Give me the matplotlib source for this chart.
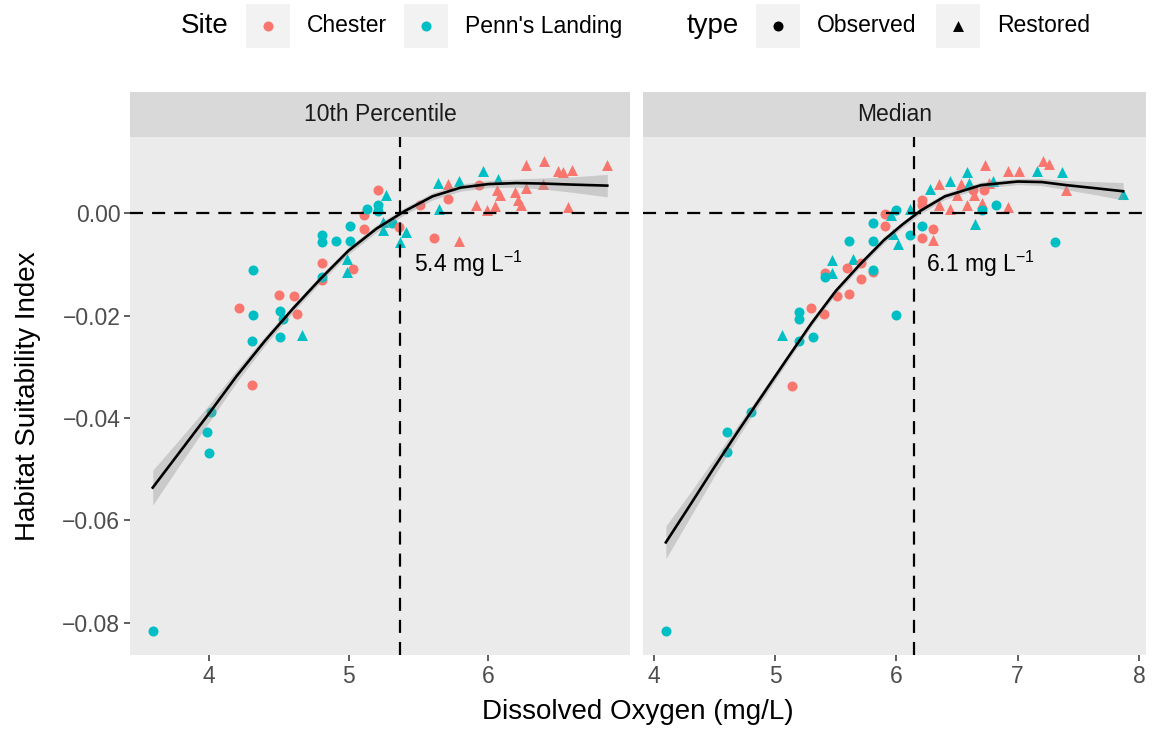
import numpy as np
import matplotlib
matplotlib.use("Agg")
import matplotlib.pyplot as plt
from matplotlib.patches import Rectangle

plt.rcParams["font.family"] = ["Liberation Sans", "DejaVu Sans"]
plt.rcParams["mathtext.fontset"] = "custom"
plt.rcParams["mathtext.rm"] = "Liberation Sans"
plt.rcParams["mathtext.default"] = "rm"
plt.rcParams["lines.scale_dashes"] = False

# Site codes: C = Chester, P = Penn's Landing; type codes: O = Observed, R = Restored
p10_do = [3.60, 4.02, 3.99, 4.00, 4.31, 4.31, 4.51, 4.67, 4.22, 4.32, 4.51, 4.53, 4.63,
          4.50, 4.61, 4.32, 4.81, 4.81, 4.81, 4.99, 5.03, 4.99, 4.81, 4.81, 4.91, 5.01,
          5.01, 5.11, 5.11, 5.13, 5.21, 5.21, 5.21, 5.27, 5.25, 5.25, 5.31, 5.36, 5.41,
          5.37, 5.51, 5.64, 5.71, 5.79, 5.96, 5.93, 6.07, 6.06, 6.08, 5.71, 5.65, 5.91,
          5.99, 6.05, 6.19, 6.21, 6.23, 6.27, 6.39, 6.27, 6.40, 6.50, 6.53, 6.60, 6.85,
          6.57, 5.61, 5.79]
p10_hsi = [-0.0817, -0.0388, -0.0427, -0.0468, -0.0336, -0.0249, -0.0241, -0.0237,
           -0.0186, -0.0198, -0.0190, -0.0206, -0.0196, -0.0159, -0.0161, -0.0111,
           -0.0097, -0.0130, -0.0124, -0.0089, -0.0109, -0.0115, -0.0043, -0.0056,
           -0.0054, -0.0054, -0.0025, -0.0031, -0.0004, 0.0008, 0.0017, 0.0004, 0.0045,
           0.0035, -0.0033, -0.0017, -0.0019, -0.0027, -0.0037, -0.0056, 0.0017, 0.0060,
           0.0058, 0.0064, 0.0083, 0.0056, 0.0066, 0.0045, 0.0035, 0.0027, 0.0008, 0.0016,
           0.0006, 0.0014, 0.0041, 0.0025, 0.0016, 0.0049, 0.0058, 0.0095, 0.0103, 0.0083,
           0.0080, 0.0085, 0.0095, 0.0012, -0.0049, -0.0054]
p10_site = ("PPPPCPPPCP" "PPCCCPCCPP" "CPPPPPPCCP" "PPCPPPPCPP"
            "CPCPPCPCCC" "PCCCCCCCCC" "CCCCCCCC")
p10_type = ("OOOOOOOROO" "OOOOOOOOOR" "OROOOOOOOO" "OOORRROORR"
            "ORRRRORRRO" "RRRRRRRRRR" "RRRRRROR")

med_do = [4.10, 4.60, 4.60, 4.80, 5.14, 5.06, 5.20, 5.31, 5.30, 5.20, 5.20, 5.40, 5.51,
          5.61, 5.41, 5.41, 5.47, 5.47, 5.64, 5.59, 5.71, 5.71, 5.81, 5.81, 5.61, 5.81,
          6.00, 5.81, 5.91, 5.91, 5.96, 6.00, 6.11, 6.11, 6.01, 5.97, 6.21, 6.21, 6.28,
          6.35, 6.44, 6.53, 6.58, 6.60, 6.73, 6.63, 6.50, 6.35, 6.44, 6.58, 6.64, 6.71,
          6.71, 6.72, 6.76, 6.80, 6.82, 6.92, 7.01, 6.92, 7.16, 7.21, 7.26, 7.37, 7.40,
          7.87, 6.65, 6.21, 6.30, 6.21, 6.30, 7.31]
med_hsi = [-0.0817, -0.0427, -0.0466, -0.0388, -0.0338, -0.0237, -0.0249, -0.0241,
           -0.0186, -0.0192, -0.0206, -0.0196, -0.0161, -0.0157, -0.0117, -0.0124,
           -0.0117, -0.0091, -0.0089, -0.0107, -0.0097, -0.0128, -0.0115, -0.0111,
           -0.0054, -0.0054, -0.0198, -0.0019, -0.0025, -0.0002, -0.0004, 0.0006, 0.0008,
           -0.0043, -0.0060, -0.0041, 0.0025, 0.0017, 0.0047, 0.0058, 0.0064, 0.0058,
           0.0080, 0.0060, 0.0095, 0.0045, 0.0035, 0.0016, 0.0008, 0.0016, 0.0035, 0.0021,
           0.0006, 0.0045, 0.0060, 0.0064, 0.0017, 0.0083, 0.0083, 0.0012, 0.0082, 0.0103,
           0.0097, 0.0080, 0.0045, 0.0037, -0.0021, -0.0025, -0.0031, -0.0049, -0.0052,
           -0.0056]
med_site = ("PPPPCPPPCP" "PCCCCPPPPC" "CCCPPPPPCC" "PPPPPPCCPC"
            "PCPPCCCCCC" "CCPCCPPCCC" "PCCPCPPPCC" "CP")
med_type = ("OOOOOROOOO" "OOOOOORRRO" "OOOOOOOOOO" "RORORROORR"
            "RRRRRORRRR" "RROORRORRR" "RRRRRRROOO" "RO")

# smoothed fit with its 95% confidence half-width
p10_fit_do = [3.60, 3.80, 4.00, 4.20, 4.40, 4.60, 4.80, 5.00, 5.20, 5.40, 5.60, 5.80,
              6.00, 6.20, 6.40, 6.60, 6.85]
p10_fit = [-0.0536, -0.0464, -0.0392, -0.0318, -0.0250, -0.0187, -0.0128, -0.0073,
           -0.0030, 0.0004, 0.0033, 0.0050, 0.0057, 0.0059, 0.0058, 0.0056, 0.0054]
p10_se = [0.0034, 0.0025, 0.0017, 0.0012, 0.0009, 0.0007, 0.0007, 0.0007, 0.0007,
          0.0007, 0.0007, 0.0007, 0.0007, 0.0008, 0.0011, 0.0015, 0.0022]

med_fit_do = [4.10, 4.30, 4.50, 4.70, 4.90, 5.10, 5.30, 5.50, 5.70, 5.90, 6.05, 6.20,
              6.40, 6.70, 7.00, 7.20, 7.40, 7.60, 7.87]
med_fit = [-0.0643, -0.0570, -0.0496, -0.0424, -0.0354, -0.0284, -0.0215, -0.0152,
           -0.0100, -0.0052, -0.0022, 0.0005, 0.0033, 0.0055, 0.0062, 0.0061, 0.0055,
           0.0050, 0.0043]
med_se = [0.0032, 0.0024, 0.0017, 0.0012, 0.0009, 0.0007, 0.0006, 0.0006, 0.0006,
          0.0006, 0.0006, 0.0006, 0.0006, 0.0006, 0.0006, 0.0007, 0.0009, 0.0012, 0.0017]

panel_titles = ["10th Percentile", "Median"]
thresholds = [5.37, 6.145]
x_breaks = [[4, 5, 6], [4, 5, 6, 7, 8]]
y_breaks = [-0.08, -0.06, -0.04, -0.02, 0.00]

site_colors = {"C": "#F8766D", "P": "#00BFC4"}
type_markers = {"O": "o", "R": "^"}

W, H = 1153, 730
fig = plt.figure(figsize=(W / 100, H / 100), dpi=100)
fig.patch.set_facecolor("white")

panels = [(p10_do, p10_hsi, p10_site, p10_type, p10_fit_do, p10_fit, p10_se),
          (med_do, med_hsi, med_site, med_type, med_fit_do, med_fit, med_se)]
lefts = [130, 643]
widths = [500, 503]
top, bottom = 137, 655

ylo = min(min(p10_hsi), min(med_hsi))
yhi = max(max(p10_hsi), max(med_hsi))
ypad = 0.05 * (yhi - ylo)

for i, (do, hsi, site, kind, fx, fy, se) in enumerate(panels):
    ax = fig.add_axes([lefts[i] / W, (H - bottom) / H, widths[i] / W, (bottom - top) / H])
    ax.set_facecolor("#EBEBEB")
    for s in ax.spines.values():
        s.set_visible(False)

    for xv, yv, sc, tc in zip(do, hsi, site, kind):
        ax.scatter(xv, yv, s=52 if tc == "O" else 62, marker=type_markers[tc],
                   color=site_colors[sc], linewidths=0, zorder=2)

    fy = np.array(fy)
    se = np.array(se)
    ax.fill_between(fx, fy - se, fy + se, color="#999999", alpha=0.4, linewidth=0, zorder=3)
    ax.plot(fx, fy, color="black", lw=1.9, zorder=4, solid_joinstyle="round")

    ax.axhline(0, color="black", lw=1.6, dashes=(9.4, 6.5), zorder=5)
    ax.axvline(thresholds[i], color="black", lw=1.6, dashes=(9.4, 6.5), zorder=5)
    ax.text(thresholds[i] + 0.1, -0.0099, f"{thresholds[i]:.1f} mg L$^{{-1}}$",
            fontsize=16.5, ha="left", va="center", zorder=6)

    xpad = 0.05 * (max(do) - min(do))
    ax.set_xlim(min(do) - xpad, max(do) + xpad)
    ax.set_ylim(ylo - ypad, yhi + ypad)
    ax.set_xticks(x_breaks[i])
    ax.set_yticks(y_breaks)
    if i == 0:
        ax.set_yticklabels([f"{v:.2f}".replace("-", "\u2212") for v in y_breaks])
    else:
        ax.set_yticklabels([])
    ax.tick_params(length=4, width=1.1, color="#333333", labelcolor="#4D4D4D",
                   labelsize=16.5, pad=3)
    ax.tick_params(axis="y", length=0 if i else 4)

    strip = fig.add_axes([lefts[i] / W, (H - top) / H, widths[i] / W, 45 / H])
    strip.set_facecolor("#D9D9D9")
    strip.set_xticks([])
    strip.set_yticks([])
    for s in strip.spines.values():
        s.set_visible(False)
    strip.text(0.5, 0.5, panel_titles[i], ha="center", va="center", fontsize=16.5,
               color="#1A1A1A", transform=strip.transAxes)

fig.text(28 / W, 1 - 396 / H, "Habitat Suitability Index", rotation=90,
         ha="center", va="center", fontsize=20)
fig.text(638 / W, 1 - 712 / H, "Dissolved Oxygen (mg/L)", ha="center", va="center",
         fontsize=20)

# legend across the top, laid out in pixel units
lg = fig.add_axes([0, 0, 1, 1], facecolor="none")
lg.set_xlim(0, W)
lg.set_ylim(H, 0)
lg.axis("off")
ly = 26
lg.text(181, ly, "Site", fontsize=20, ha="left", va="center")
lg.text(687, ly, "type", fontsize=20, ha="left", va="center")
keys = [(246, "Chester", site_colors["C"], "o"),
        (404, "Penn's Landing", site_colors["P"], "o"),
        (756, "Observed", "black", "o"),
        (936, "Restored", "black", "^")]
for kx, label, col, mk in keys:
    lg.add_patch(Rectangle((kx, ly - 22), 44, 44, facecolor="#F2F2F2", edgecolor="none"))
    lg.scatter(kx + 22, ly, s=52 if mk == "o" else 62, marker=mk, color=col, linewidths=0)
    lg.text(kx + 61, ly, label, fontsize=16.5, ha="left", va="center")

fig.savefig("out.png", dpi=100)
